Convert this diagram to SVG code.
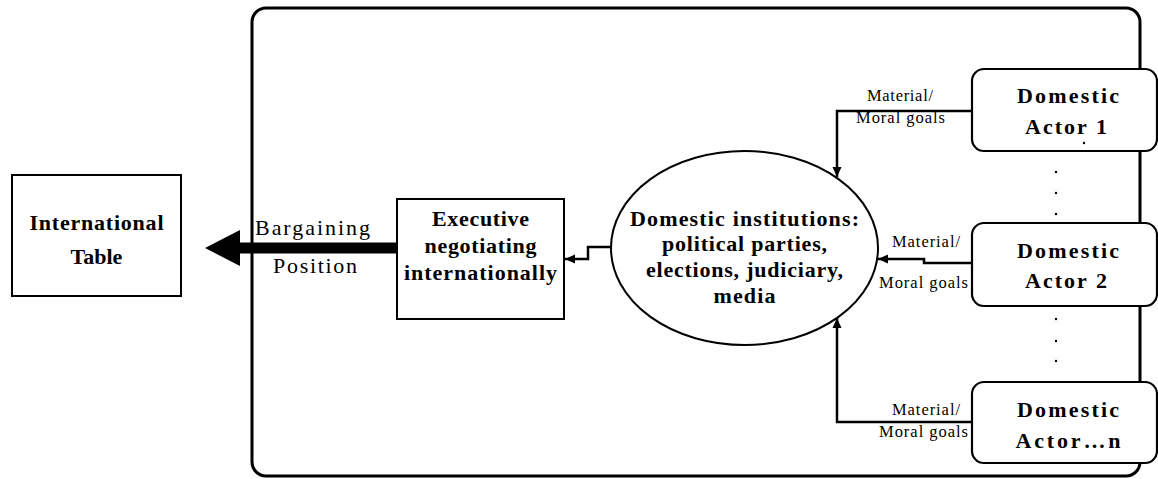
<svg xmlns="http://www.w3.org/2000/svg" width="1158" height="479" viewBox="0 0 1158 479" font-family="Liberation Serif, Times New Roman, DejaVu Serif, serif">
<style>
text{font-family:'Liberation Serif','Times New Roman','DejaVu Serif',serif;fill:#000;text-anchor:middle}
.bx{fill:#fff;stroke:#000;stroke-width:2}
.rb{fill:#fff;stroke:#000;stroke-width:2.2}
.b{font-weight:bold;font-size:22px}
.r{font-size:22px}
.s{font-size:16.5px}
.c{fill:none;stroke:#000;stroke-width:2.5}
.d{fill:#000}
</style>
<defs>
<marker id="ah" markerWidth="10" markerHeight="10" viewBox="0 0 10 10" refX="10" refY="5" orient="auto" markerUnits="userSpaceOnUse">
<path d="M0,0.5 L10,5 L0,9.5 Z" fill="#000"/>
</marker>
</defs>
<rect id="frame" x="252" y="8" width="888" height="468" rx="14" fill="none" stroke="#000" stroke-width="3"/>

<g id="international-table">
<rect class="bx" x="12" y="175" width="169" height="121"/>
<text class="b" x="96.5" y="230" textLength="134" lengthAdjust="spacing">International</text>
<text class="b" x="96.5" y="264">Table</text>
</g>

<g id="executive">
<rect class="bx" x="397" y="199" width="167" height="120"/>
<text class="b" x="480.5" y="226" textLength="97" lengthAdjust="spacing">Executive</text>
<text class="b" x="480.5" y="253" textLength="112" lengthAdjust="spacing">negotiating</text>
<text class="b" x="480.5" y="280" textLength="153" lengthAdjust="spacing">internationally</text>
</g>

<g id="domestic-institutions">
<ellipse cx="744.5" cy="248" rx="133.5" ry="97" fill="#fff" stroke="#000" stroke-width="2"/>
<text class="b" x="744.5" y="226" textLength="229" lengthAdjust="spacing">Domestic institutions:</text>
<text class="b" x="744.5" y="251" textLength="165" lengthAdjust="spacing">political parties,</text>
<text class="b" x="744.5" y="277" textLength="197" lengthAdjust="spacing">elections, judiciary,</text>
<text class="b" x="744.5" y="303" textLength="62" lengthAdjust="spacing">media</text>
</g>

<g id="connectors">
<rect x="238" y="242.5" width="159" height="11" fill="#000"/>
<polygon points="205,248 240,230 240,266" fill="#000"/>
<path class="c" d="M611,247 H588 V259 H565" marker-end="url(#ah)"/>
<path class="c" d="M972,111 H837 V177" marker-end="url(#ah)"/>
<path class="c" d="M972,263 H924 V259 H878" marker-end="url(#ah)"/>
<path class="c" d="M972,422 H837 V318" marker-end="url(#ah)"/>
<text class="r" x="312.5" y="235" textLength="115" lengthAdjust="spacing">Bargaining</text>
<text class="r" x="315" y="273" textLength="84" lengthAdjust="spacing">Position</text>
<text class="s" x="900" y="101" textLength="66" lengthAdjust="spacing">Material/</text>
<text class="s" x="900.5" y="123" textLength="89" lengthAdjust="spacing">Moral goals</text>
<text class="s" x="926" y="247" textLength="68" lengthAdjust="spacing">Material/</text>
<text class="s" x="923.5" y="288" textLength="89" lengthAdjust="spacing">Moral goals</text>
<text class="s" x="926" y="415" textLength="68" lengthAdjust="spacing">Material/</text>
<text class="s" x="923.5" y="437" textLength="89" lengthAdjust="spacing">Moral goals</text>
</g>

<g id="actor-1">
<rect class="rb" x="972" y="69" width="185" height="82" rx="12"/>
<text class="b" x="1068" y="103" textLength="102" lengthAdjust="spacing">Domestic</text>
<text class="b" x="1066" y="134" textLength="82" lengthAdjust="spacing">Actor 1</text>
</g>

<g id="actor-2">
<rect class="rb" x="972" y="223" width="185" height="83" rx="12"/>
<text class="b" x="1068" y="258" textLength="102" lengthAdjust="spacing">Domestic</text>
<text class="b" x="1066" y="288" textLength="82" lengthAdjust="spacing">Actor 2</text>
</g>

<g id="actor-n">
<rect class="rb" x="972" y="382" width="185" height="81" rx="12"/>
<text class="b" x="1068" y="417" textLength="102" lengthAdjust="spacing">Domestic</text>
<text class="b" x="1068" y="448" textLength="105" lengthAdjust="spacing">Actor…n</text>
</g>

<g id="dots">
<circle class="d" cx="1084" cy="143" r="1.2"/>
<circle class="d" cx="1056" cy="172" r="1.2"/>
<circle class="d" cx="1056" cy="193" r="1.2"/>
<circle class="d" cx="1056" cy="214" r="1.2"/>
<circle class="d" cx="1056" cy="319" r="1.2"/>
<circle class="d" cx="1056" cy="341" r="1.2"/>
<circle class="d" cx="1056" cy="361" r="1.2"/>
</g>
</svg>
